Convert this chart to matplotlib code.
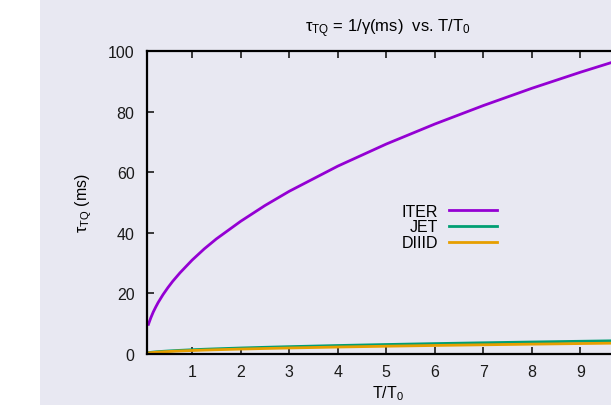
import numpy as np
import matplotlib
matplotlib.use('Agg')
import matplotlib.pyplot as plt
from matplotlib.patches import Rectangle

plt.rcParams['font.family'] = ['Liberation Sans', 'DejaVu Sans']
plt.rcParams['mathtext.fontset'] = 'custom'
plt.rcParams['mathtext.rm'] = 'Liberation Sans'
plt.rcParams['mathtext.it'] = 'Liberation Sans:italic'

# values (T/T0 -> tau_TQ in ms)
t_ratio = [0.1, 0.12, 0.15, 0.2, 0.25, 0.3, 0.4, 0.5, 0.6, 0.75, 1, 1.25, 1.5, 2, 2.5, 3,
           4, 5, 6, 7, 8, 9, 10]
tau_iter = [9.8, 10.7, 12.0, 13.9, 15.5, 17.0, 19.6, 21.9, 24.0, 26.8, 31.0, 34.7, 38.0,
            43.8, 49.0, 53.7, 62.0, 69.3, 75.9, 82.0, 87.7, 93.0, 98.0]
tau_jet = [0.45, 0.48, 0.55, 0.63, 0.70, 0.77, 0.89, 0.99, 1.08, 1.21, 1.40, 1.57, 1.71,
           1.98, 2.21, 2.42, 2.80, 3.13, 3.43, 3.70, 3.96, 4.20, 4.43]
tau_diiid = [0.36, 0.40, 0.45, 0.51, 0.58, 0.63, 0.73, 0.81, 0.89, 1.00, 1.15, 1.29, 1.41,
             1.63, 1.82, 1.99, 2.30, 2.57, 2.82, 3.04, 3.25, 3.45, 3.64]

labels = ['ITER', 'JET', 'DIIID']
colors = ['#9400d3', '#009e73', '#e69f00']

W, H = 611, 406
bg = '#e8e8f2'
fig = plt.figure(figsize=(W / 100, H / 100), dpi=100, facecolor=bg)
fig.patches.append(Rectangle((0, 0), 40 / W, 1, transform=fig.transFigure,
                             facecolor='white', edgecolor='none', zorder=-10))

# plot box runs past the right edge of the picture (cropped like the reference)
ax = fig.add_axes([147 / W, 51 / H, 482 / W, 303 / H])
ax.set_facecolor(bg)

for y, lab, c in zip([tau_iter, tau_jet, tau_diiid], labels, colors):
    ax.plot(t_ratio, y, color=c, lw=2.0, label=lab)

ax.set_xlim(0.07, 10)
ax.set_ylim(0, 100)
ax.set_xticks(range(1, 10))
ax.set_yticks(range(0, 101, 20))
ax.tick_params(direction='in', length=5, width=1.2, top=True, right=True,
               labelsize=11.5, pad=7, colors='#1a1a1a')
ax.tick_params(axis='y', pad=9)
for s in ax.spines.values():
    s.set_linewidth(1.6)
    s.set_color('black')

ax.set_title('τ$_{\\mathrm{TQ}}$ = 1/γ(ms)  vs. T/T$_{\\mathrm{0}}$', fontsize=12, pad=14)
ax.set_xlabel('T/T$_{\\mathrm{0}}$', fontsize=11.5, labelpad=3)
ax.set_ylabel('τ$_{\\mathrm{TQ}}$ (ms)', fontsize=11.5, labelpad=10)

ax.legend(loc='center right', bbox_to_anchor=(497 / W, 1 - 228 / H),
          bbox_transform=fig.transFigure, frameon=False, markerfirst=False,
          handlelength=3.0, handletextpad=0.7, labelspacing=0.05,
          borderpad=0, borderaxespad=0, fontsize=11.5)

fig.savefig('out.png', dpi=100, facecolor=bg)
